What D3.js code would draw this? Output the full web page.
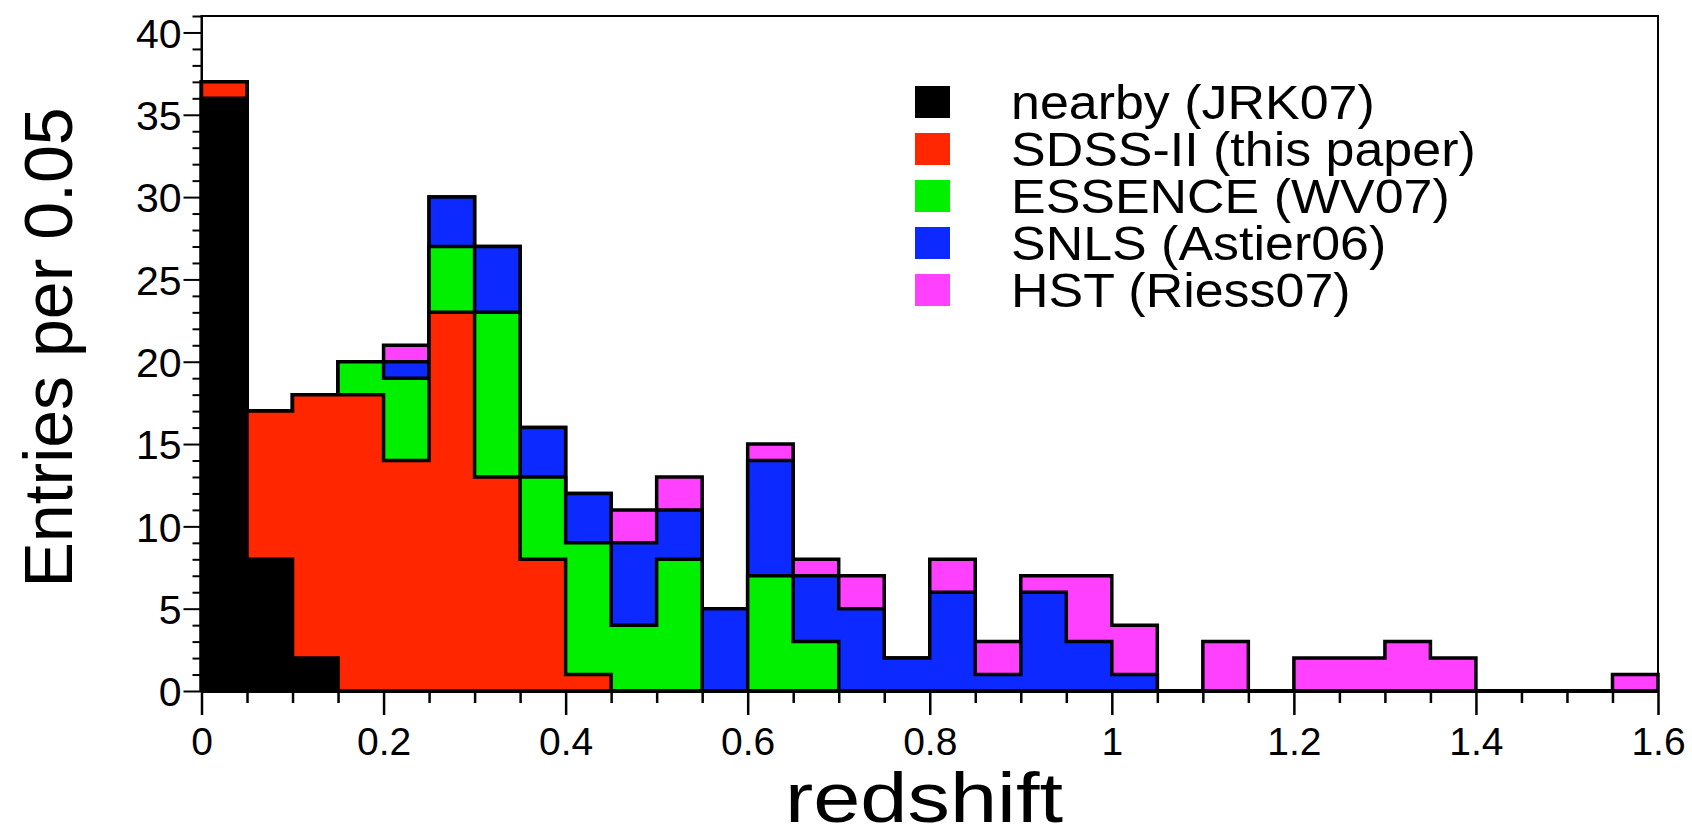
<!DOCTYPE html>
<html>
<head>
<meta charset="utf-8">
<script src="https://cdn.jsdelivr.net/npm/d3@7"></script>
<style>
  html, body { margin: 0; padding: 0; background: #ffffff; }
  svg { display: block; }
  text { font-family: "Liberation Sans", Arial, Helvetica, sans-serif; fill: #000; }
</style>
</head>
<body>
<svg id="chart" width="1692" height="834"></svg>
<script>
// Redshift histogram, bins of width 0.05 from 0 to 1.6
const binEdges = d3.range(0, 32).map(i => +(i * 0.05).toFixed(2));
const binWidth = 0.05;

const nearby  = [36, 8, 2, 0, 0, 0, 0, 0, 0, 0, 0, 0, 0, 0, 0, 0, 0, 0, 0, 0, 0, 0, 0, 0, 0, 0, 0, 0, 0, 0, 0, 0];
const sdss    = [1, 9, 16, 18, 14, 23, 13, 8, 1, 0, 0, 0, 0, 0, 0, 0, 0, 0, 0, 0, 0, 0, 0, 0, 0, 0, 0, 0, 0, 0, 0, 0];
const essence = [0, 0, 0, 2, 5, 4, 10, 5, 8, 4, 8, 0, 7, 3, 0, 0, 0, 0, 0, 0, 0, 0, 0, 0, 0, 0, 0, 0, 0, 0, 0, 0];
const snls    = [0, 0, 0, 0, 1, 3, 4, 3, 3, 5, 3, 5, 7, 4, 5, 2, 6, 1, 6, 3, 1, 0, 0, 0, 0, 0, 0, 0, 0, 0, 0, 0];
const hst     = [0, 0, 0, 0, 1, 0, 0, 0, 0, 2, 2, 0, 1, 1, 2, 0, 2, 2, 1, 4, 3, 0, 3, 0, 2, 2, 3, 2, 0, 0, 0, 1];

const seriesNames = ["nearby (JRK07)", "SDSS-II (this paper)", "ESSENCE (WV07)", "SNLS (Astier06)", "HST (Riess07)"];
const seriesValues = [nearby, sdss, essence, snls, hst];
const seriesColors = ["#000000", "#ff2600", "#00f000", "#0c2aff", "#ff40ff"];

const xTicks = [0, 0.2, 0.4, 0.6, 0.8, 1, 1.2, 1.4, 1.6];
const yTicks = [0, 5, 10, 15, 20, 25, 30, 35, 40];

const svg = d3.select("#chart");

const plot = { left: 201.5, right: 1658, top: 16, bottom: 691 };

const x = d3.scaleLinear().domain([0, 1.6]).range([plot.left, plot.right]);
const y = d3.scaleLinear().domain([0, 41]).range([plot.bottom, plot.top]);

// Stacked totals: layer k holds the sum of series 0..k for every bin
const cumulative = seriesValues.map((_, k) =>
  binEdges.map((_, i) => d3.sum(seriesValues.slice(0, k + 1), s => s[i])));

function stepPoints(vals) {
  const pts = vals.map((v, i) => [binEdges[i], v]);
  pts.push([binEdges[binEdges.length - 1] + binWidth, vals[vals.length - 1]]);
  return pts;
}

const area = d3.area()
  .x(d => x(d[0]))
  .y0(y(0))
  .y1(d => y(d[1]))
  .curve(d3.curveStepAfter);

// Outline of a stacked total: starts and ends on the zero line
function outlinePoints(vals) {
  const pts = [[binEdges[0], 0]];
  vals.forEach((v, i) => {
    pts.push([binEdges[i], v]);
    pts.push([binEdges[i] + binWidth, v]);
  });
  pts.push([binEdges[binEdges.length - 1] + binWidth, 0]);
  return pts;
}
const outline = d3.line().x(d => x(d[0])).y(d => y(d[1]));

// Draw from the largest stack down, each one filled from zero with a black outline
const hist = svg.append("g");
for (let k = seriesValues.length - 1; k >= 0; k--) {
  hist.append("path")
    .attr("d", area(stepPoints(cumulative[k])))
    .attr("fill", seriesColors[k])
    .attr("stroke", "none");
  hist.append("path")
    .attr("d", outline(outlinePoints(cumulative[k])))
    .attr("fill", "none")
    .attr("stroke", "#000")
    .attr("stroke-width", 3.5)
    .attr("stroke-linejoin", "miter");
}

// Frame
svg.append("rect")
  .attr("x", plot.left).attr("y", plot.top)
  .attr("width", plot.right - plot.left).attr("height", plot.bottom - plot.top)
  .attr("fill", "none").attr("stroke", "#000").attr("stroke-width", 2);

// Y axis: major ticks every 5, minor every 1, drawn outward
const yAxis = d3.axisLeft(y).tickValues(yTicks).tickSize(18).tickSizeOuter(0).tickFormat(d3.format("d"));
const gy = svg.append("g").attr("transform", `translate(${plot.left},0)`).call(yAxis);
gy.select(".domain").attr("stroke-width", 2);
gy.selectAll(".tick line").attr("stroke-width", 2);
gy.selectAll(".tick text").attr("font-size", 41).attr("font-family", "Liberation Sans, Arial, sans-serif").attr("dx", "1").attr("dy", "0.36em");
const yMinor = d3.axisLeft(y).tickValues(d3.range(0, 42).filter(v => v % 5 !== 0)).tickSize(9).tickFormat("");
const gym = svg.append("g").attr("transform", `translate(${plot.left},0)`).call(yMinor);
gym.select(".domain").remove();
gym.selectAll(".tick line").attr("stroke-width", 2);

// X axis: major ticks every 0.2, minor every 0.05, drawn outward
const xAxis = d3.axisBottom(x).tickValues(xTicks).tickSize(24).tickSizeOuter(0).tickFormat(d3.format("~g"));
const gx = svg.append("g").attr("transform", `translate(0,${plot.bottom})`).call(xAxis);
gx.select(".domain").attr("stroke-width", 3);
gx.selectAll(".tick line").attr("stroke-width", 2.5);
gx.selectAll(".tick text").attr("font-size", 39).attr("font-family", "Liberation Sans, Arial, sans-serif").attr("dy", "0.95em");
const xMinorVals = d3.range(0, 33).map(i => +(i * 0.05).toFixed(2)).filter(v => !xTicks.some(t => Math.abs(t - v) < 1e-6));
const xMinor = d3.axisBottom(x).tickValues(xMinorVals).tickSize(12).tickFormat("");
const gxm = svg.append("g").attr("transform", `translate(0,${plot.bottom})`).call(xMinor);
gxm.select(".domain").remove();
gxm.selectAll(".tick line").attr("stroke-width", 2.5);

// Axis titles
svg.append("text")
  .attr("x", 924)
  .attr("y", 822)
  .attr("text-anchor", "middle")
  .attr("font-size", 70)
  .attr("textLength", 278)
  .attr("lengthAdjust", "spacingAndGlyphs")
  .text("redshift");

svg.append("text")
  .attr("transform", `translate(72,${(plot.top + plot.bottom) / 2 - 6}) rotate(-90)`)
  .attr("text-anchor", "middle")
  .attr("font-size", 68)
  .text("Entries per 0.05");

// Legend
const legend = svg.append("g");
seriesNames.forEach((name, i) => {
  const cy = 102 + i * 47;
  legend.append("rect")
    .attr("x", 915).attr("y", cy - 16)
    .attr("width", 35).attr("height", 32)
    .attr("fill", seriesColors[i]);
  const t = legend.append("text")
    .attr("x", 1011).attr("y", cy + 17)
    .attr("font-size", 49)
    .text(name);
  const w = t.node().getComputedTextLength();
  t.attr("textLength", w * 1.06).attr("lengthAdjust", "spacingAndGlyphs");
});
</script>
</body>
</html>
